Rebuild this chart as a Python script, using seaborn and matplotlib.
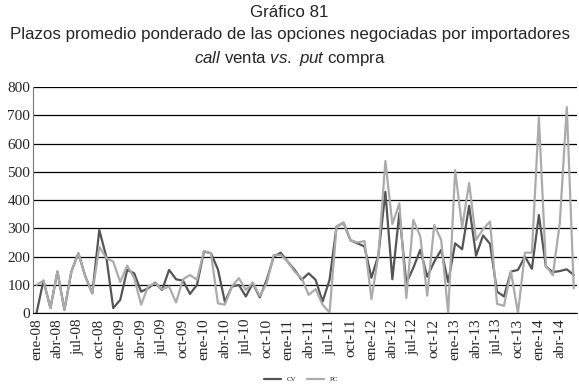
import matplotlib
matplotlib.use("Agg")
import matplotlib.pyplot as plt
import seaborn as sns
import pandas as pd
import numpy as np

# monthly data ene-08 .. jun-14 (78 months)
meses = ['ene', 'feb', 'mar', 'abr', 'may', 'jun', 'jul', 'ago', 'sep', 'oct', 'nov', 'dic']
fechas = [f"{m}-{a:02d}" for a in range(8, 15) for m in meses][:78]

cv = [0, 115, 18, 147, 12, 147, 212, 130, 70, 294,
      200, 18, 47, 153, 141, 76, 88, 108, 82, 153,
      120, 115, 68, 100, 218, 212, 155, 40, 94, 100,
      59, 106, 56, 118, 200, 214, 182, 153, 118, 141,
      118, 41, 118, 306, 320, 258, 247, 236, 125, 205,
      429, 120, 355, 106, 160, 224, 129, 182, 224, 110,
      247, 226, 380, 203, 275, 245, 76, 59, 147, 153,
      200, 157, 347, 165, 145, 149, 155, 135]
pc = [100, 115, 18, 147, 12, 147, 212, 130, 70, 235,
      195, 182, 110, 168, 125, 30, 95, 106, 85, 94,
      38, 120, 135, 118, 220, 212, 35, 30, 94, 124,
      82, 108, 61, 106, 206, 206, 182, 147, 124, 65,
      85, 30, 2, 306, 320, 258, 250, 255, 50, 205,
      538, 315, 388, 53, 330, 272, 62, 312, 259, 0,
      506, 303, 460, 259, 297, 324, 33, 26, 147, 0,
      214, 214, 692, 168, 134, 320, 729, 88]

df = pd.DataFrame({"fecha": fechas, "CV": cv, "PC": pc})
df["i"] = np.arange(len(df))
largo = df.melt(id_vars=["i", "fecha"], value_vars=["CV", "PC"], var_name="serie", value_name="plazo")

sns.set_style("white")
plt.rcParams['mathtext.fontset'] = 'custom'
plt.rcParams['mathtext.rm'] = 'Liberation Sans'
plt.rcParams['mathtext.it'] = 'Liberation Sans:italic'

fig = plt.figure(figsize=(5.79, 3.90), dpi=100)
ax = fig.add_axes([0.057, 0.197, 0.94, 0.58])

sns.lineplot(data=largo, x="i", y="plazo", hue="serie", palette={"CV": "#555555", "PC": "#ababab"},
             linewidth=1.6, ax=ax, legend=False)

ax.set_xlim(-0.5, len(df) - 0.5)
ax.set_ylim(0, 800)
ax.set_yticks(range(0, 801, 100))
ax.yaxis.grid(True, color="black", linewidth=0.9)
ax.set_axisbelow(True)

lbl_pos = df["i"][::3]
ax.set_xticks(lbl_pos)
ax.set_xticklabels(df["fecha"][::3], rotation=90, family="Liberation Serif", fontsize=11)
ax.set_xticks(np.arange(-0.5, len(df), 3), minor=True)
ax.tick_params(axis="x", which="major", length=0, pad=4)
ax.tick_params(axis="x", which="minor", length=4, color="black", direction="out")
ax.tick_params(axis="y", length=0, pad=2)
for t in ax.get_yticklabels():
    t.set_family("Liberation Serif")
    t.set_fontsize(11)
ax.set_xlabel("")
ax.set_ylabel("")

for s in ["top", "right"]:
    ax.spines[s].set_visible(False)
ax.spines["left"].set_color("#777777")
ax.spines["bottom"].set_color("black")

fig.text(0.5, 0.968, "Gráfico 81", ha="center", va="center", family="Liberation Sans", fontsize=12.2)
fig.text(0.5, 0.912, "Plazos promedio ponderado de las opciones negociadas por importadores",
         ha="center", va="center", family="Liberation Sans", fontsize=12.2)
fig.text(0.5, 0.85, r"$\mathit{call}$ venta $\mathit{vs.}$ $\mathit{put}$ compra",
         ha="center", va="center", family="Liberation Sans", fontsize=12.2)

from matplotlib.lines import Line2D
handles = [Line2D([], [], color="#555555", lw=1.6), Line2D([], [], color="#ababab", lw=1.6)]
fig.legend(handles, ["CV", "PC"], loc="center", bbox_to_anchor=(0.52, 0.028), ncol=2, frameon=False,
           prop={"family": "Liberation Serif", "size": 5}, handlelength=2.5, columnspacing=1.5)

fig.savefig("out.png", dpi=100)
